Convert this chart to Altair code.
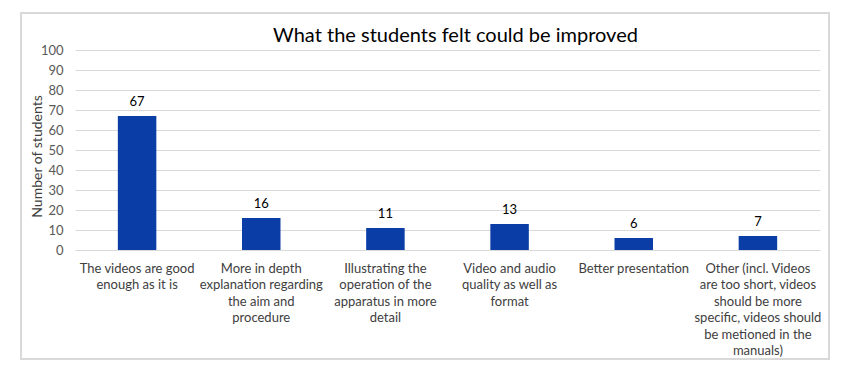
import altair as alt
import pandas as pd

categories = [
    "The videos are good enough as it is",
    "More in depth explanation regarding the aim and procedure",
    "Illustrating the operation of the apparatus in more detail",
    "Video and audio quality as well as format",
    "Better presentation",
    "Other (incl.  Videos are too short, videos should be more specific, videos should be metioned in the manuals)",
]
label_lines = [
    ["The videos are good", "enough as it is"],
    ["More in depth", "explanation regarding", "the aim and", "procedure"],
    ["Illustrating the", "operation of the", "apparatus in more", "detail"],
    ["Video and audio", "quality as well as", "format"],
    ["Better presentation"],
    ["Other (incl.  Videos", "are too short, videos", "should be more", "specific, videos should", "be metioned in the", "manuals)"],
]
values = [67, 16, 11, 13, 6, 7]
y_ticks = [0, 10, 20, 30, 40, 50, 60, 70, 80, 90, 100]

df = pd.DataFrame({"category": categories, "value": values})

FONT = "Lato"

label_map = "{" + ",".join(
    '"%s": "%s"' % (c.replace('"', '\\"'), "|".join(l)) for c, l in zip(categories, label_lines)
) + "}"

x_enc = alt.X(
    "category:N", sort=categories, title=None,
    scale=alt.Scale(paddingInner=0.69, paddingOuter=0.345),
    axis=alt.Axis(
        labelAngle=0, labelFontSize=13, labelColor="#404040", labelFont=FONT,
        labelExpr="split(" + label_map + "[datum.label], '|')",
        labelLineHeight=16.5, labelPadding=12, ticks=False,
        domainColor="#d9d9d9", labelLimit=200, labelBaseline="top",
    ),
)
y_enc = alt.Y(
    "value:Q", title="Number of students",
    scale=alt.Scale(domain=[0, 100]),
    axis=alt.Axis(
        values=y_ticks, labelFontSize=13, labelColor="#595959",
        labelFont=FONT, titleFont=FONT, titleFontSize=14, titleColor="#404040",
        titleFontWeight="normal", domain=False, ticks=False, labelPadding=12,
        gridColor="#d9d9d9", labelOverlap=False,
        titleX=-31, titleY=106, titleBaseline="bottom", titleAngle=270,
    ),
)

base = alt.Chart(df).encode(x=x_enc, y=y_enc)
bars = base.mark_bar(color="#0a3ea6")
texts = base.mark_text(
    baseline="bottom", dy=-7, fontSize=13, font=FONT, color="#000000"
).encode(text="value:Q")
border = alt.Chart(df).mark_rect(fill=None, stroke="#d9d9d9", strokeWidth=1.5).encode(
    x=alt.value(-54), x2=alt.value(754), y=alt.value(-37), y2=alt.value(309)
)

chart = alt.layer(border, bars, texts).properties(
    width=745, height=200,
    title=alt.TitleParams(
        "What the students felt could be improved", font=FONT, fontSize=20,
        fontWeight="normal", color="#000000", dx=8, offset=-34,
    ),
    autosize=alt.AutoSizeParams(type="none"),
    padding={"left": 67, "top": 42, "right": 22, "bottom": 110},
).configure_view(stroke=None)

chart.save("out.html", embed_options={"renderer": "svg", "actions": False})
